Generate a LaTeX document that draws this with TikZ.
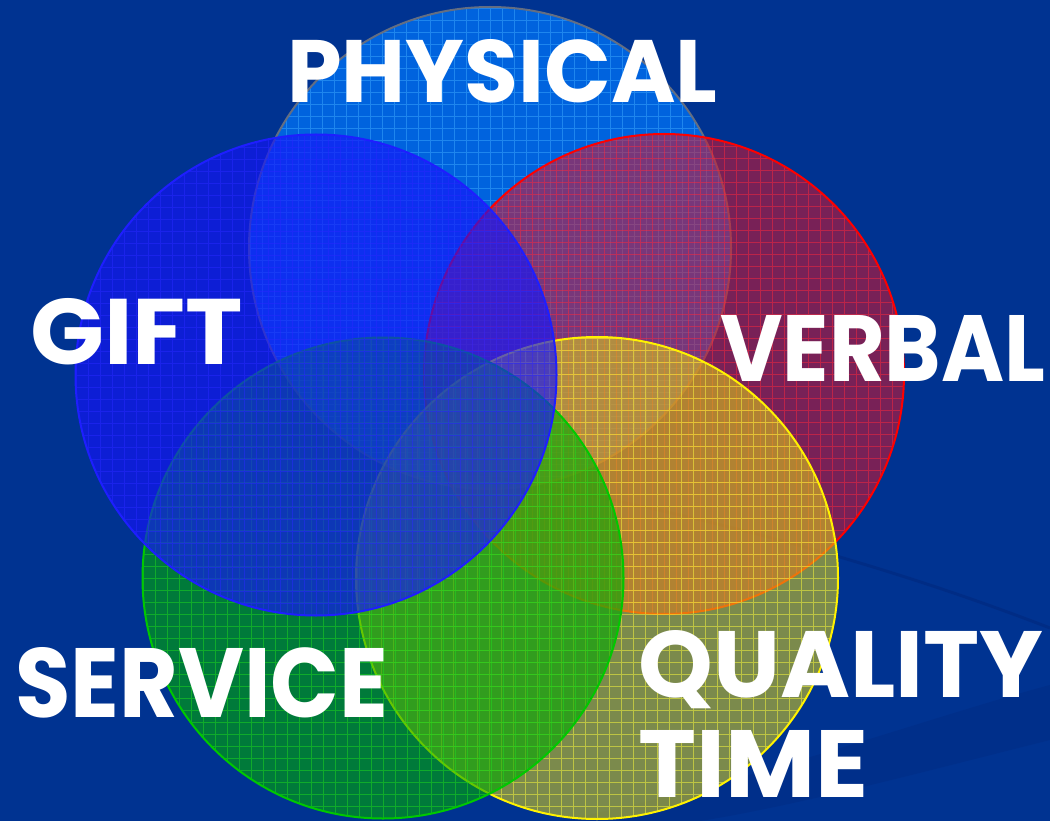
\documentclass[tikz,border=0pt]{standalone}
\usepackage{fontspec}
\newfontfamily\lab{Poppins}
\begin{document}
\begin{tikzpicture}[x=1pt,y=-1pt,
  ring/.style={circle, inner sep=0pt, minimum size=#1, line width=2pt},
  gridded/.style={path picture={\draw[#1, line width=0.7pt, opacity=0.5]
     (path picture bounding box.south west) grid[step=12pt] (path picture bounding box.north east);}},
  word/.style={inner sep=0pt, anchor=base west, text=white}]
\definecolor{bg}{RGB}{0,51,145}
\definecolor{bgdark}{RGB}{0,40,125}
\definecolor{physF}{RGB}{0,120,255}
\definecolor{physL}{RGB}{60,170,255}
\definecolor{physE}{RGB}{100,110,130}
\definecolor{verbF}{RGB}{220,20,40}
\definecolor{verbL}{RGB}{255,40,60}
\definecolor{qualF}{RGB}{225,210,20}
\definecolor{qualL}{RGB}{255,255,60}
\definecolor{servF}{RGB}{0,170,0}
\definecolor{servL}{RGB}{30,220,30}
\definecolor{servE}{RGB}{0,200,0}
\definecolor{giftF}{RGB}{20,20,250}
\definecolor{giftL}{RGB}{40,40,255}
\definecolor{giftE}{RGB}{30,30,255}
\fill[bg] (0,0) rectangle (1050,821);
\useasboundingbox (0,0) rectangle (1050,821);
% faint background swooshes
\fill[bgdark, opacity=0.35] (560,821) .. controls (760,780) and (920,720) .. (1050,685)
   -- (1050,740) .. controls (930,770) and (800,805) .. (700,821) -- cycle;
\draw[bgdark, line width=3pt, opacity=0.6] (450,470) .. controls (700,510) and (900,570) .. (1050,628);
% circles
\node[ring=482pt, draw=physE, fill=physF, fill opacity=0.7, gridded=physL] (phys) at (490,248) {};
\node[ring=480pt, draw=red, fill=verbF, fill opacity=0.55, gridded=verbL] (verb) at (664,374) {};
\node[ring=482pt, draw=yellow, fill=qualF, fill opacity=0.55, gridded=qualL] (qual) at (597,578) {};
\node[ring=481pt, draw=servE, fill=servF, fill opacity=0.6, gridded=servL] (serv) at (383,578) {};
\node[ring=481pt, draw=giftE, fill=giftF, fill opacity=0.65, gridded=giftL] (gift) at (316,375) {};
% labels
\node[word] (tphys) at (287,103) {\resizebox{430pt}{63pt}{\raisebox{0pt}[\height][0pt]{\lab\bfseries PHYSICAL}}};
\node[word] (tgift) at (30,364) {\resizebox{213pt}{66pt}{\raisebox{0pt}[\height][0pt]{\lab\bfseries GIFT}}};
\node[word] (tverb) at (720,381) {\resizebox{325pt}{66pt}{\raisebox{0pt}[\height][0pt]{\lab\bfseries VERBAL}}};
\node[word] (tserv) at (15,717) {\resizebox{373pt}{70pt}{\raisebox{0pt}[\height][0pt]{\lab\bfseries SERVICE}}};
\node[word] (tqual) at (638,697) {\resizebox{405pt}{67pt}{\raisebox{0pt}[\height][0pt]{\lab\bfseries QUALITY}}};
\node[word] (ttime) at (638,797) {\resizebox{230pt}{67pt}{\raisebox{0pt}[\height][0pt]{\lab\bfseries TIME}}};
\end{tikzpicture}
\end{document}
